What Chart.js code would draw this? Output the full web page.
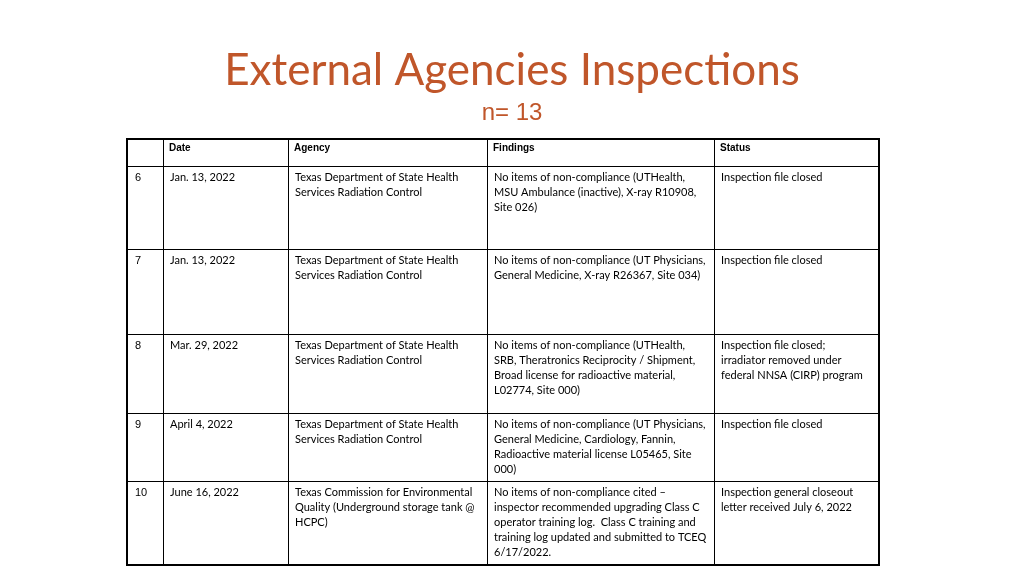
<!DOCTYPE html>
<html>
<head>
<meta charset="utf-8">
<script src="https://cdn.jsdelivr.net/npm/chart.js@4.4.0/dist/chart.umd.min.js"></script>
<style>
  html, body { margin: 0; padding: 0; background: #fff; }
  #wrap { width: 1024px; height: 575px; position: relative; }
</style>
</head>
<body>
<div id="wrap"><canvas id="tbl" width="1024" height="575"></canvas></div>
<script>
// table content
const headers = ['', 'Date', 'Agency', 'Findings', 'Status'];
const rowNums = ['6', '7', '8', '9', '10'];
const dates = ['Jan. 13, 2022', 'Jan. 13, 2022', 'Mar. 29, 2022', 'April 4, 2022', 'June 16, 2022'];
const agencies = [
    'Texas Department of State Health\nServices Radiation Control',
    'Texas Department of State Health\nServices Radiation Control',
    'Texas Department of State Health\nServices Radiation Control',
    'Texas Department of State Health\nServices Radiation Control',
    'Texas Commission for Environmental\nQuality (Underground storage tank @\nHCPC)'
];
const findings = [
    'No items of non-compliance (UTHealth,\nMSU Ambulance (inactive), X-ray R10908,\nSite 026)',
    'No items of non-compliance (UT Physicians,\nGeneral Medicine, X-ray R26367, Site 034)',
    'No items of non-compliance (UTHealth,\nSRB, Theratronics Reciprocity / Shipment,\nBroad license for radioactive material,\nL02774, Site 000)',
    'No items of non-compliance (UT Physicians,\nGeneral Medicine, Cardiology, Fannin,\nRadioactive material license L05465, Site\n000)',
    'No items of non-compliance cited \u2013\ninspector recommended upgrading Class C\noperator training log.  Class C training and\ntraining log updated and submitted to TCEQ\n6/17/2022.'
];
const statuses = [
    'Inspection file closed',
    'Inspection file closed',
    'Inspection file closed;\nirradiator removed under\nfederal NNSA (CIRP) program',
    'Inspection file closed',
    'Inspection general closeout\nletter received July 6, 2022'
];

// layout (page units = pixels)
const colEdges = [127, 163, 288, 487, 714, 879];
const rowEdges = [139, 166, 249, 334, 413, 481, 565];

const tablePlugin = {
    id: 'tablePlugin',
    afterDraw(chart) {
        const ctx = chart.ctx;
        const xs = chart.scales.x, ys = chart.scales.y;
        const px = v => xs.getPixelForValue(v);
        const py = v => ys.getPixelForValue(v);
        ctx.save();
        // title
        ctx.fillStyle = '#C0562A';
        ctx.textAlign = 'center';
        ctx.textBaseline = 'alphabetic';
        ctx.font = '44px Lato, "Open Sans", sans-serif';
        ctx.fillText('External Agencies Inspections', px(512), py(85));
        ctx.font = '24px "Liberation Sans", Arial, sans-serif';
        ctx.fillText('n= 13', px(512), py(120));

        // grid
        ctx.strokeStyle = '#000';
        ctx.lineWidth = 1;
        colEdges.forEach(c => {
            ctx.beginPath();
            ctx.moveTo(Math.round(px(c)) + 0.5, py(rowEdges[0]));
            ctx.lineTo(Math.round(px(c)) + 0.5, py(rowEdges[rowEdges.length - 1]));
            ctx.stroke();
        });
        rowEdges.forEach(r => {
            ctx.beginPath();
            ctx.moveTo(px(colEdges[0]), Math.round(py(r)) + 0.5);
            ctx.lineTo(px(colEdges[colEdges.length - 1]), Math.round(py(r)) + 0.5);
            ctx.stroke();
        });
        ctx.lineWidth = 2;
        ctx.strokeRect(px(colEdges[0]), py(rowEdges[0]), px(colEdges[5]) - px(colEdges[0]), py(rowEdges[6]) - py(rowEdges[0]));

        // header
        ctx.fillStyle = '#000';
        ctx.textAlign = 'left';
        ctx.font = 'bold 10px "Liberation Sans", Arial, sans-serif';
        headers.forEach((h, i) => ctx.fillText(h, px(colEdges[i]) + 6, py(rowEdges[0]) + 12));

        // body
        const cols = [rowNums, dates, agencies, findings, statuses];
        for (let r = 0; r < rowNums.length; r++) {
            cols.forEach((col, c) => {
                ctx.font = c === 0 ? '11px "Liberation Sans", Arial, sans-serif' : '11px Lato, "Open Sans", sans-serif';
                const lines = col[r].split('\n');
                lines.forEach((ln, k) => {
                    ctx.fillText(ln, px(colEdges[c]) + (c === 0 ? 8 : 7), py(rowEdges[r + 1]) + 15 + k * 15);
                });
            });
        }
        ctx.restore();
    }
};

new Chart(document.getElementById('tbl').getContext('2d'), {
    type: 'scatter',
    data: { datasets: [{ data: [] }] },
    options: {
        responsive: false,
        animation: false,
        layout: { padding: 0 },
        plugins: { legend: { display: false }, tooltip: { enabled: false } },
        scales: {
            x: { type: 'linear', min: 0, max: 1024, display: false },
            y: { type: 'linear', min: 0, max: 575, reverse: true, display: false }
        }
    },
    plugins: [tablePlugin]
});
</script>
</body>
</html>
